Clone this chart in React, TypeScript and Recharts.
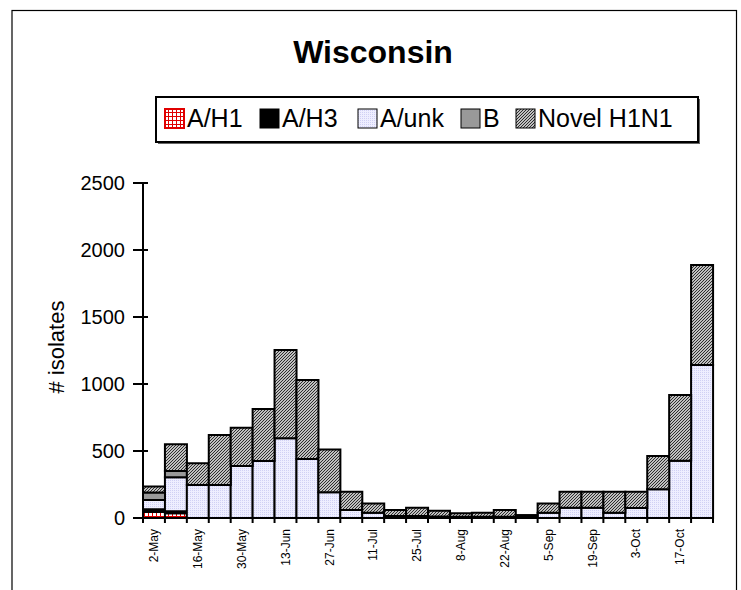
import React from 'react';
import { BarChart, Bar, XAxis, YAxis } from 'recharts';

// weekly isolates, Wisconsin
const weeks = [
  '2-May', '9-May', '16-May', '23-May', '30-May', '6-Jun', '13-Jun', '20-Jun', '27-Jun',
  '4-Jul', '11-Jul', '18-Jul', '25-Jul', '1-Aug', '8-Aug', '15-Aug', '22-Aug', '29-Aug',
  '5-Sep', '12-Sep', '19-Sep', '26-Sep', '3-Oct', '10-Oct', '17-Oct', '24-Oct',
];
const aH1 = [45, 35, 0, 0, 0, 0, 0, 0, 0, 0, 0, 0, 0, 0, 0, 0, 0, 0, 0, 0, 0, 0, 0, 0, 0, 0];
const aH3 = [20, 15, 0, 0, 0, 0, 0, 0, 0, 0, 0, 0, 0, 0, 0, 0, 0, 0, 0, 0, 0, 0, 0, 0, 0, 0];
const aUnk = [70, 255, 246, 246, 388, 425, 595, 440, 192, 60, 40, 15, 15, 12, 10, 10, 10, 15, 40, 77, 77, 40, 75, 214, 428, 1142];
const bType = [55, 45, 0, 0, 0, 0, 0, 0, 0, 0, 0, 0, 0, 0, 0, 0, 0, 0, 0, 0, 0, 0, 0, 0, 0, 0];
const novel = [45, 200, 162, 373, 286, 388, 659, 590, 320, 136, 69, 45, 62, 43, 25, 30, 50, 7, 69, 119, 119, 156, 121, 249, 490, 746];
const yTicks = [0, 500, 1000, 1500, 2000, 2500];

const data = weeks.map((week, i) => ({
  week,
  aH1: aH1[i],
  aH3: aH3[i],
  aUnk: aUnk[i],
  b: bType[i],
  novel: novel[i],
}));

const FONT = '"Liberation Sans", Arial, sans-serif';
const PLOT_LEFT = 143;
const PLOT_RIGHT = 713;
const band = (PLOT_RIGHT - PLOT_LEFT) / weeks.length;

const XTick = (props: any) => {
  const { x, y, payload, index } = props;
  const i = payload?.index ?? index;
  const axisY = y - 11;
  return (
    <g>
      <line x1={x - band / 2} x2={x - band / 2} y1={axisY} y2={axisY + 5} stroke="#000" strokeWidth={2} />
      {i === weeks.length - 1 && (
        <line x1={x + band / 2} x2={x + band / 2} y1={axisY} y2={axisY + 5} stroke="#000" strokeWidth={2} />
      )}
      {i % 2 === 0 && (
        <text
          x={x}
          y={y}
          transform={`rotate(-90 ${x} ${y})`}
          textAnchor="end"
          dy="0.35em"
          fontSize={12}
          fontFamily={FONT}
          fill="#000"
        >
          {payload.value}
        </text>
      )}
    </g>
  );
};

const YTick = (props: any) => {
  const { x, y, payload } = props;
  const axisX = x + 18;
  return (
    <g>
      <line x1={axisX - 10} x2={axisX + 5} y1={y} y2={y} stroke="#000" strokeWidth={2} />
      <text x={x} y={y} dy="0.35em" textAnchor="end" fontSize={20} fontFamily={FONT} fill="#000">
        {payload.value}
      </text>
    </g>
  );
};

const legendItems = [
  { label: 'A/H1', fill: 'url(#pH1)', border: '#e00000', x: 165 },
  { label: 'A/H3', fill: '#000', border: '#000', x: 260 },
  { label: 'A/unk', fill: 'url(#pUnk)', border: '#000', x: 358 },
  { label: 'B', fill: '#999', border: '#000', x: 461 },
  { label: 'Novel H1N1', fill: 'url(#pNovel)', border: '#000', x: 516 },
];

export default function App() {
  return (
    <div
      style={{
        position: 'absolute',
        left: 0,
        top: 0,
        width: 741,
        height: 590,
        overflow: 'hidden',
        background: '#fff',
        fontFamily: FONT,
      }}
    >
      <BarChart
        width={741}
        height={590}
        data={data}
        margin={{ top: 183, right: 741 - PLOT_RIGHT, bottom: 0, left: 0 }}
        barCategoryGap={0}
      >
        <defs>
          <pattern id="pH1" width="4" height="4" patternUnits="userSpaceOnUse">
            <rect width="4" height="4" fill="#fff" />
            <path d="M0 0.5H4M0.5 0V4" stroke="#e00000" strokeWidth="1" />
          </pattern>
          <pattern id="pUnk" width="2" height="2" patternUnits="userSpaceOnUse">
            <rect width="2" height="2" fill="#eeeeff" />
            <rect width="1" height="1" fill="#d0d0f4" />
          </pattern>
          <pattern id="pNovel" width="3" height="3" patternUnits="userSpaceOnUse">
            <rect width="3" height="3" fill="#fff" />
            <path d="M-1 1L1 -1M0 3L3 0M2 4L4 2" stroke="#222" strokeWidth="1.1" />
          </pattern>
        </defs>
        <XAxis
          dataKey="week"
          interval={0}
          height={72}
          tickSize={5}
          tickMargin={6}
          tickLine={false}
          axisLine={{ stroke: '#000', strokeWidth: 2 }}
          tick={<XTick />}
        />
        <YAxis
          width={PLOT_LEFT}
          domain={[0, 2500]}
          ticks={yTicks}
          tickSize={10}
          tickMargin={8}
          tickLine={false}
          axisLine={{ stroke: '#000', strokeWidth: 2 }}
          tick={<YTick />}
        />
        <Bar dataKey="aH1" name="A/H1" stackId="a" fill="url(#pH1)" stroke="#000" strokeWidth={2} isAnimationActive={false} />
        <Bar dataKey="aH3" name="A/H3" stackId="a" fill="#000" stroke="#000" strokeWidth={2} isAnimationActive={false} />
        <Bar dataKey="aUnk" name="A/unk" stackId="a" fill="url(#pUnk)" stroke="#000" strokeWidth={2} isAnimationActive={false} />
        <Bar dataKey="b" name="B" stackId="a" fill="#999" stroke="#000" strokeWidth={2} isAnimationActive={false} />
        <Bar dataKey="novel" name="Novel H1N1" stackId="a" fill="url(#pNovel)" stroke="#000" strokeWidth={2} isAnimationActive={false} />
      </BarChart>

      <svg
        width={741}
        height={590}
        style={{ position: 'absolute', left: 0, top: 0, pointerEvents: 'none' }}
      >
        {/* chart frame */}
        <rect x={12} y={10.5} width={724.5} height={620} fill="none" stroke="#000" strokeWidth={1.2} />
        <text x={373} y={63} textAnchor="middle" fontSize={32} fontWeight="bold" fontFamily={FONT} fill="#000">
          Wisconsin
        </text>

        {/* legend */}
        <rect x={158} y={99} width={542} height={45} fill="#666" />
        <rect x={156} y={97} width={542} height={45} fill="#fff" stroke="#000" strokeWidth={2} />
        {legendItems.map((it) => (
          <g key={it.label}>
            <rect x={it.x} y={109} width={19} height={19} fill={it.fill} stroke={it.border} strokeWidth={it.label === 'A/H1' ? 2 : 1} />
            <text x={it.x + 22} y={127} fontSize={25} fontFamily={FONT} fill="#000">
              {it.label}
            </text>
          </g>
        ))}

        <text
          x={56}
          y={347}
          transform="rotate(-90 56 347)"
          textAnchor="middle"
          dy="0.35em"
          fontSize={22}
          fontFamily={FONT}
          fill="#000"
        >
          # isolates
        </text>
      </svg>
    </div>
  );
}
